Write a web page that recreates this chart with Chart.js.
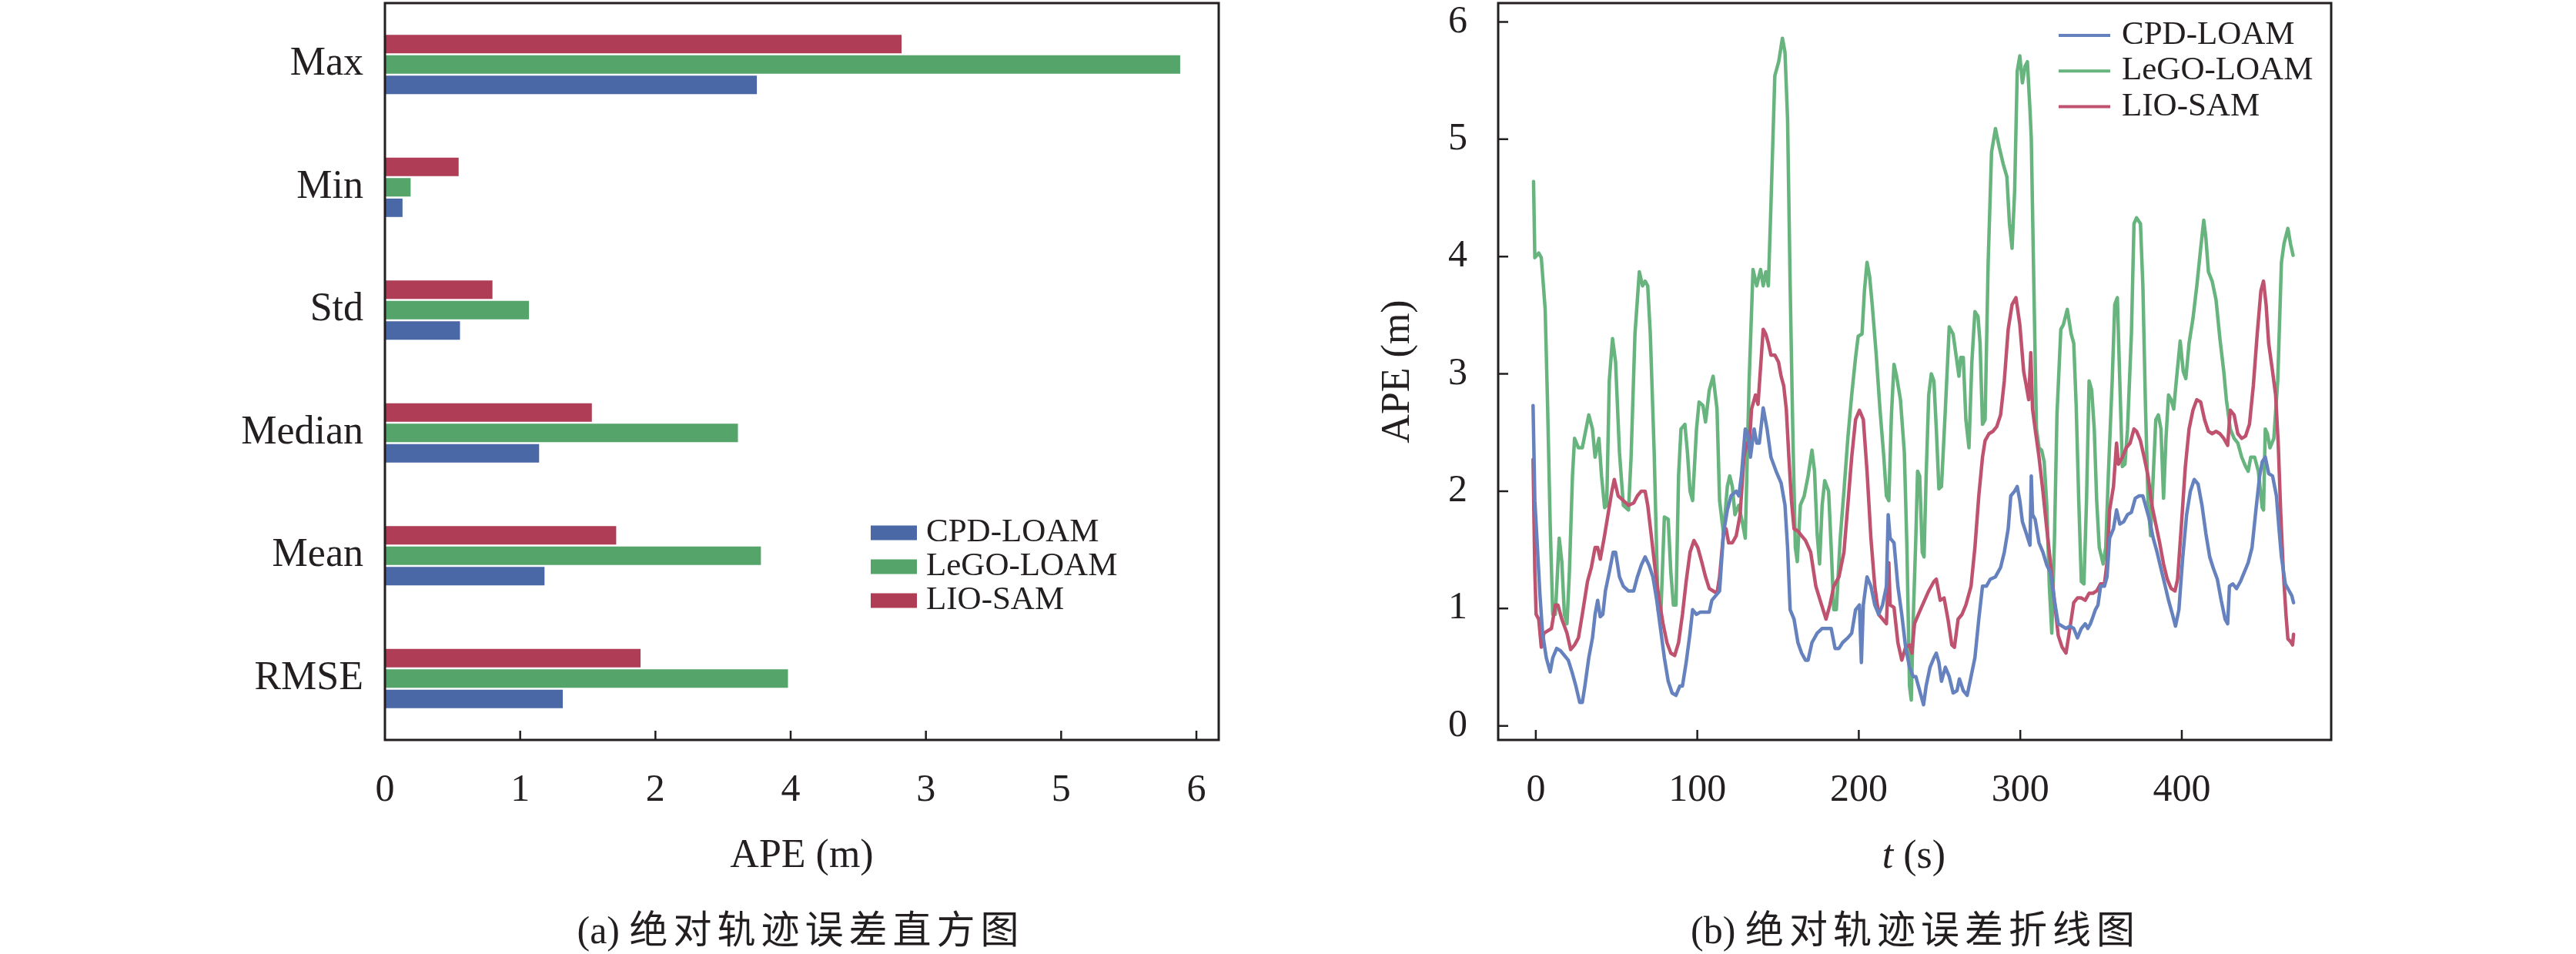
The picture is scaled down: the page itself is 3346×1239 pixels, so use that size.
<!DOCTYPE html>
<html>
<head>
<meta charset="utf-8">
<script src="https://cdn.jsdelivr.net/npm/chart.js@4.4.1/dist/chart.umd.min.js"></script>
<style>
  body { margin: 0; background: #fff; }
  #pagina { position: relative; width: 3346px; height: 1239px; background: #fff; overflow: hidden; }
  canvas { position: absolute; top: 0; }
  .txt { position: absolute; font-family: "Liberation Serif", "Noto Sans CJK SC", serif; color: #231f20;
         white-space: nowrap; transform: translate(-50%, -50%); line-height: 1; }
  .cap { font-size: 50px; }
  .cap span { font-family: "Noto Sans CJK SC", sans-serif; letter-spacing: 7px; }
</style>
</head>
<body>
<div id="pagina">
  <canvas id="graficaBarras" width="1673" height="1239" style="left:0"></canvas>
  <canvas id="graficaLineas" width="1673" height="1239" style="left:1673px"></canvas>
  <div class="txt" style="left:2486px; top:1110px; font-size:52px"><i>t</i> (s)</div>
  <div class="txt cap" style="left:1040px; top:1205px">(a) <span>绝对轨迹误差直方图</span></div>
  <div class="txt cap" style="left:2488px; top:1205px">(b) <span>绝对轨迹误差折线图</span></div>
</div>
<script>
// Datos del histograma (a)
const categorias = ['Max', 'Min', 'Std', 'Median', 'Mean', 'RMSE'];
const cpdBarras = [2.75, 0.13, 0.555, 1.14, 1.18, 1.315];
const legoBarras = [5.88, 0.19, 1.065, 2.61, 2.78, 2.98];
const lioBarras = [3.82, 0.545, 0.795, 1.53, 1.71, 1.89];
const ticksBarras = [0, 1, 2, 3, 4, 5, 6];
const etiquetasBarras = ['0', '1', '2', '4', '3', '5', '6'];   // tal como aparecen en la figura

// Datos de la curva (b): pares [t (s), APE (m)]
const cpdLoam = [[-1.7,2.73],[-0.6,1.92],[1.0,1.52],[2.6,1.11],[4.2,0.79],[6.5,0.58],[8.9,0.46],[10.5,0.58],[12.9,0.66],[15.3,0.64],[17.7,0.60],[20.1,0.56],[22.4,0.46],[24.8,0.34],[27.2,0.2],[28.8,0.2],[30.4,0.34],[32.8,0.58],[35.1,0.75],[36.7,0.95],[38.3,1.07],[39.9,0.93],[41.5,0.95],[43.1,1.15],[45.5,1.31],[47.9,1.48],[49.4,1.48],[51.8,1.27],[54.2,1.19],[57.4,1.15],[60.6,1.15],[62.9,1.27],[65.3,1.37],[67.7,1.44],[70.1,1.37],[72.5,1.27],[74.9,1.07],[77.2,0.83],[79.6,0.58],[82.0,0.38],[84.4,0.28],[86.8,0.26],[89.2,0.34],[90.8,0.34],[93.1,0.54],[95.5,0.79],[97.1,0.99],[99.5,0.95],[101.9,0.97],[105.1,0.97],[107.4,0.97],[109.0,1.07],[111.4,1.11],[113.8,1.15],[116.2,1.64],[118.6,1.84],[120.9,1.96],[124.1,2.0],[125.7,1.96],[127.3,2.13],[129.7,2.53],[131.3,2.49],[132.9,2.29],[135.2,2.53],[136.8,2.41],[138.4,2.41],[140.8,2.71],[143.2,2.53],[145.6,2.29],[148.8,2.17],[151.9,2.07],[154.3,1.88],[155.9,1.52],[157.5,0.99],[159.9,0.91],[162.3,0.71],[164.6,0.62],[167.0,0.56],[168.6,0.56],[171.0,0.71],[174.2,0.79],[177.3,0.83],[180.5,0.83],[182.9,0.83],[185.3,0.66],[187.7,0.66],[190.0,0.71],[193.2,0.75],[195.6,0.79],[198.0,0.99],[200.4,1.03],[201.6,0.54],[202.8,1.03],[205.1,1.27],[207.5,1.19],[209.9,1.03],[212.3,0.95],[214.7,1.03],[217.1,1.19],[218.2,1.8],[219.4,1.6],[221.8,1.56],[224.2,1.19],[226.6,0.95],[229.0,0.67],[231.4,0.5],[233.7,0.42],[235.3,0.42],[236.9,0.34],[238.5,0.26],[240.1,0.18],[241.7,0.34],[244.1,0.5],[246.5,0.58],[248.0,0.62],[249.6,0.54],[251.2,0.38],[253.6,0.5],[256.0,0.42],[258.4,0.28],[260.8,0.30],[262.3,0.4],[264.7,0.30],[267.1,0.26],[269.5,0.42],[271.9,0.58],[274.3,0.91],[276.6,1.19],[279.0,1.19],[281.4,1.25],[284.6,1.27],[287.8,1.35],[290.1,1.48],[292.5,1.68],[294.1,1.96],[296.5,2.0],[298.1,2.04],[299.7,1.92],[301.3,1.74],[303.7,1.64],[306.0,1.54],[306.8,2.13],[307.6,1.8],[309.2,1.76],[311.6,1.56],[314.0,1.48],[316.4,1.37],[318.7,1.31],[321.1,1.07],[323.5,0.87],[325.9,0.85],[328.3,0.83],[330.7,0.85],[333.1,0.83],[335.4,0.75],[337.8,0.83],[340.2,0.87],[341.8,0.83],[343.4,0.87],[345.0,0.93],[346.5,0.99],[348.1,1.03],[349.7,1.19],[352.1,1.19],[353.7,1.27],[355.3,1.6],[357.7,1.68],[359.6,1.84],[361.6,1.72],[364.0,1.74],[366.4,1.8],[368.8,1.82],[371.2,1.94],[373.6,1.96],[375.9,1.96],[377.5,1.88],[379.9,1.76],[382.3,1.6],[384.7,1.48],[387.1,1.34],[389.4,1.21],[391.8,1.07],[394.2,0.95],[396.1,0.85],[398.2,0.99],[400.6,1.44],[403.0,1.8],[405.3,2.0],[407.7,2.1],[410.1,2.06],[412.5,1.88],[414.9,1.64],[417.3,1.44],[419.6,1.34],[422.0,1.25],[424.4,1.07],[426.8,0.91],[428.4,0.87],[429.5,1.19],[431.6,1.21],[433.9,1.17],[436.3,1.23],[438.7,1.31],[441.1,1.39],[443.5,1.52],[445.9,1.84],[448.2,2.13],[449.8,2.25],[451.7,2.29],[453.8,2.15],[456.2,2.13],[458.6,1.96],[460.2,1.68],[461.7,1.44],[464.1,1.21],[466.5,1.15],[468.1,1.11],[469.2,1.05]];

const legoLoam = [[-1.4,4.64],[-0.6,3.99],[1.8,4.03],[3.4,3.99],[5.8,3.55],[7.3,2.73],[8.9,1.72],[10.5,0.95],[12.1,0.95],[14.5,1.6],[16.1,1.4],[17.7,0.95],[19.3,0.87],[20.8,1.31],[22.7,2.13],[24.0,2.45],[26.4,2.37],[28.8,2.37],[32.8,2.65],[35.1,2.53],[36.7,2.29],[39.1,2.45],[40.7,2.13],[42.6,1.86],[43.9,1.88],[45.5,2.94],[47.5,3.30],[49.4,3.10],[51.8,2.33],[54.2,1.88],[57.4,1.84],[59.0,2.29],[61.4,3.34],[64.1,3.87],[66.1,3.75],[67.7,3.79],[69.3,3.75],[70.9,3.34],[73.3,2.33],[75.7,0.99],[77.3,0.91],[79.6,1.78],[82.0,1.76],[83.6,1.31],[85.2,1.03],[86.8,1.03],[88.4,2.13],[89.9,2.53],[92.3,2.57],[93.9,2.33],[95.5,2.0],[97.1,1.92],[99.5,2.53],[101.1,2.76],[103.5,2.73],[105.1,2.59],[107.4,2.86],[109.8,2.98],[112.2,2.7],[113.8,1.92],[116.2,1.64],[118.6,2.04],[120.1,2.13],[121.7,2.04],[123.3,1.8],[125.7,1.88],[128.1,1.72],[129.7,1.6],[132.1,2.94],[134.5,3.89],[136.8,3.75],[139.2,3.89],[140.8,3.75],[142.4,3.87],[144.0,3.75],[145.6,4.44],[148.0,5.54],[150.4,5.66],[152.7,5.86],[154.3,5.74],[155.9,5.17],[157.5,3.75],[159.1,2.53],[160.7,1.52],[161.9,1.40],[163.8,1.88],[166.2,1.96],[168.6,2.13],[171.0,2.35],[172.6,2.17],[174.2,1.64],[175.7,1.38],[177.3,1.88],[178.9,2.09],[181.3,2.0],[182.9,1.52],[184.5,0.99],[186.1,0.99],[188.5,1.6],[190.8,2.0],[193.2,2.45],[195.6,2.82],[198.0,3.14],[199.6,3.32],[202.0,3.34],[203.5,3.71],[205.1,3.95],[206.7,3.83],[208.3,3.59],[210.7,3.18],[213.1,2.7],[215.5,2.29],[217.1,1.96],[218.6,1.92],[220.2,2.65],[221.8,3.08],[223.4,2.98],[225.8,2.78],[228.2,2.33],[229.8,1.52],[231.4,0.34],[232.5,0.22],[233.7,0.91],[235.3,1.6],[236.4,2.17],[237.7,2.13],[239.3,1.48],[240.4,1.44],[241.7,2.13],[243.3,2.82],[244.9,3.0],[246.5,2.94],[248.0,2.53],[249.6,2.02],[251.2,2.04],[253.6,2.7],[256.0,3.4],[258.4,3.34],[260.8,3.1],[262.0,2.98],[263.1,3.14],[264.7,3.14],[266.3,2.61],[268.2,2.37],[270.0,3.1],[271.9,3.53],[273.8,3.49],[275.1,3.26],[276.6,2.57],[278.2,2.61],[280.1,3.95],[282.2,4.89],[284.6,5.09],[287.0,4.93],[289.4,4.79],[291.7,4.68],[293.3,4.28],[294.9,4.07],[296.5,4.56],[298.1,5.58],[299.7,5.71],[301.3,5.48],[302.9,5.62],[304.4,5.66],[306.0,5.25],[306.8,5.01],[308.4,3.75],[310.0,2.53],[311.6,2.37],[313.2,2.35],[314.8,2.25],[316.4,1.88],[318.0,1.19],[319.5,0.79],[321.1,1.56],[322.7,2.65],[325.1,3.38],[326.7,3.42],[329.1,3.55],[331.5,3.34],[333.1,3.26],[334.6,2.73],[336.2,1.92],[337.8,1.23],[339.4,1.21],[341.0,1.92],[342.6,2.94],[344.2,2.86],[345.8,2.53],[347.3,1.92],[348.9,1.52],[351.3,1.38],[352.9,1.52],[354.5,2.13],[356.9,2.94],[358.5,3.59],[360.1,3.65],[361.6,2.94],[363.2,2.21],[364.8,2.23],[366.4,2.53],[368.8,3.34],[370.4,4.28],[372.0,4.33],[374.4,4.28],[375.9,3.75],[377.5,2.73],[379.1,1.92],[380.7,1.62],[382.3,2.13],[383.9,2.61],[385.5,2.65],[387.1,2.53],[388.7,1.94],[390.2,2.45],[391.8,2.82],[393.4,2.78],[395.0,2.7],[396.6,2.94],[399.0,3.28],[400.9,3.02],[402.5,2.96],[404.5,3.26],[406.9,3.47],[409.3,3.75],[411.7,4.07],[413.6,4.31],[414.9,4.16],[416.5,3.87],[418.8,3.79],[421.2,3.63],[423.6,3.3],[426.0,3.02],[427.6,2.78],[430.0,2.53],[432.4,2.45],[434.7,2.41],[437.1,2.29],[439.5,2.21],[441.1,2.17],[442.7,2.29],[445.1,2.29],[447.4,2.17],[449.8,1.86],[450.6,1.84],[451.7,2.53],[453.0,2.49],[454.6,2.37],[457.0,2.45],[459.4,2.94],[461.7,3.95],[463.3,4.11],[465.7,4.24],[467.3,4.11],[468.9,4.01]];

const lioSam = [[-1.7,2.27],[-0.6,1.31],[0.2,0.95],[1.8,0.91],[3.4,0.67],[5.0,0.79],[7.3,0.81],[9.7,0.83],[12.1,1.03],[13.7,1.03],[16.1,0.91],[19.3,0.79],[21.6,0.65],[24.0,0.69],[26.4,0.75],[28.8,0.95],[32.0,1.23],[34.4,1.35],[36.7,1.52],[38.3,1.52],[39.9,1.42],[42.3,1.6],[44.7,1.8],[47.1,2.0],[48.6,2.1],[51.0,1.96],[54.2,1.92],[57.4,1.88],[60.6,1.90],[62.9,1.96],[65.3,2.0],[67.7,2.0],[69.3,1.88],[71.7,1.6],[74.1,1.31],[76.4,1.07],[78.8,0.87],[81.2,0.71],[83.6,0.62],[86.0,0.6],[88.4,0.71],[90.8,0.95],[93.1,1.23],[95.5,1.48],[97.9,1.58],[100.3,1.52],[102.7,1.4],[105.1,1.27],[107.4,1.17],[109.8,1.15],[112.2,1.13],[113.8,1.27],[116.2,1.64],[117.8,1.68],[119.4,1.56],[121.7,1.56],[124.1,1.62],[126.5,1.8],[128.9,2.29],[130.5,2.41],[132.1,2.37],[133.6,2.7],[136.0,2.82],[137.6,2.74],[139.2,3.06],[140.8,3.38],[142.4,3.34],[144.0,3.26],[145.6,3.16],[148.0,3.16],[150.3,3.1],[151.9,2.98],[153.5,2.9],[155.1,2.7],[156.7,2.29],[158.3,1.92],[159.9,1.68],[162.3,1.66],[164.6,1.62],[167.0,1.58],[170.2,1.48],[173.4,1.19],[176.5,1.05],[179.7,0.91],[182.1,1.03],[184.5,1.19],[187.7,1.27],[190.8,1.48],[193.2,1.88],[195.6,2.29],[198.0,2.61],[200.4,2.69],[202.8,2.61],[205.1,2.17],[207.5,1.6],[209.9,1.19],[212.3,0.95],[214.7,0.91],[217.1,0.87],[218.6,1.39],[219.4,1.03],[221.8,1.01],[224.2,0.71],[226.6,0.56],[229.0,0.67],[231.4,0.69],[232.9,0.62],[234.5,0.87],[236.9,0.95],[240.1,1.05],[243.3,1.15],[246.5,1.23],[248.0,1.25],[250.4,1.07],[252.8,1.09],[255.2,0.91],[257.6,0.69],[259.2,0.67],[261.5,0.91],[263.9,0.95],[266.3,1.03],[269.5,1.19],[271.9,1.52],[274.3,1.96],[276.6,2.29],[278.2,2.43],[280.6,2.49],[283.0,2.51],[285.4,2.55],[287.8,2.65],[290.1,2.94],[292.5,3.38],[294.9,3.59],[297.3,3.65],[299.7,3.42],[302.1,3.02],[303.7,2.9],[305.2,2.78],[306.5,3.18],[307.6,2.7],[309.2,2.53],[311.6,2.29],[314.0,2.0],[316.4,1.68],[318.7,1.39],[321.1,1.07],[323.5,0.77],[325.9,0.67],[328.3,0.62],[330.7,0.83],[333.1,1.05],[335.4,1.09],[337.8,1.09],[340.2,1.07],[342.6,1.13],[345.0,1.13],[347.3,1.15],[349.7,1.21],[352.1,1.21],[353.7,1.39],[355.3,1.84],[357.7,2.04],[359.6,2.41],[360.8,2.23],[363.2,2.29],[365.6,2.37],[368.0,2.41],[370.4,2.53],[372.0,2.51],[374.4,2.43],[376.7,2.29],[379.1,2.13],[381.5,1.88],[383.9,1.72],[386.3,1.56],[388.7,1.38],[391.0,1.25],[393.4,1.17],[395.8,1.15],[397.4,1.25],[399.8,1.72],[402.2,2.21],[404.5,2.53],[406.9,2.69],[409.3,2.78],[411.7,2.76],[414.1,2.61],[416.5,2.51],[418.8,2.49],[421.2,2.51],[423.6,2.49],[426.0,2.45],[428.4,2.39],[430.0,2.69],[432.4,2.65],[434.7,2.49],[437.1,2.45],[439.5,2.47],[441.9,2.57],[444.3,2.9],[446.7,3.34],[449.0,3.71],[450.6,3.79],[452.2,3.59],[453.8,3.26],[456.2,3.02],[458.1,2.82],[459.7,2.41],[461.3,1.8],[462.9,1.31],[464.5,0.95],[465.7,0.74],[467.3,0.72],[468.6,0.69],[469.2,0.78]];

const ticksTiempo = [0, 100, 200, 300, 400];
const ticksApe = [0, 1, 2, 3, 4, 5, 6];

Chart.defaults.font.family = '"Liberation Serif", "Times New Roman", serif';
Chart.defaults.color = '#231f20';
Chart.defaults.animation = false;

const tinta = '#231f20';

// quita el relleno automático que Chart.js reserva para las etiquetas extremas
function sinRelleno(s) {
  s.paddingTop = 0;
  s.paddingBottom = 0;
  s.paddingLeft = 0;
  s.paddingRight = 0;
}

// Marco completo y marcas de escala hacia dentro
const marco = {
  id: 'marco',
  afterDraw(chart, args, opts) {
    const { ctx, chartArea: a, scales } = chart;
    ctx.save();
    ctx.strokeStyle = tinta;
    ctx.lineWidth = 2.5;
    ctx.beginPath();
    scales.x.ticks.forEach(t => {
      const px = scales.x.getPixelForValue(t.value);
      if (px - a.left < 2) return;
      ctx.moveTo(px, a.bottom);
      ctx.lineTo(px, a.bottom - opts.largo);
    });
    if (opts.ejeY) {
      scales.y.ticks.forEach(t => {
        const py = scales.y.getPixelForValue(t.value);
        ctx.moveTo(a.left, py);
        ctx.lineTo(a.left + opts.largo, py);
      });
    }
    ctx.stroke();
    ctx.lineWidth = 3;
    ctx.strokeRect(a.left, a.top, a.right - a.left, a.bottom - a.top);
    ctx.restore();
  }
};

// Leyenda dibujada dentro del área del gráfico
const leyendaInterna = {
  id: 'leyendaInterna',
  afterDatasetsDraw(chart, args, opts) {
    const ctx = chart.ctx;
    let items = chart.data.datasets.map(d => ({ label: d.label, color: d.borderColor || d.backgroundColor }));
    if (opts.inverso) items = items.reverse();
    ctx.save();
    ctx.font = opts.fuente + 'px "Liberation Serif", serif';
    ctx.textBaseline = 'middle';
    items.forEach((it, i) => {
      const y = opts.y + i * opts.paso;
      if (opts.simbolo === 'caja') {
        ctx.fillStyle = it.color;
        ctx.fillRect(opts.x, y - opts.alto / 2, opts.ancho, opts.alto);
      } else {
        ctx.strokeStyle = it.color;
        ctx.lineWidth = opts.alto;
        ctx.beginPath();
        ctx.moveTo(opts.x, y);
        ctx.lineTo(opts.x + opts.ancho, y);
        ctx.stroke();
      }
      ctx.fillStyle = tinta;
      ctx.fillText(it.label, opts.textoX, y);
    });
    ctx.restore();
  }
};

// (a) Histograma horizontal
new Chart(document.getElementById('graficaBarras').getContext('2d'), {
  type: 'bar',
  data: {
    labels: categorias,
    datasets: [
      { label: 'LIO-SAM', data: lioBarras, backgroundColor: '#ae3d55' },
      { label: 'LeGO-LOAM', data: legoBarras, backgroundColor: '#55a46a' },
      { label: 'CPD-LOAM', data: cpdBarras, backgroundColor: '#4a68a6' }
    ]
  },
  options: {
    indexAxis: 'y',
    responsive: false,
    devicePixelRatio: 1,
    categoryPercentage: 0.5,
    barPercentage: 0.9,
    layout: { padding: { left: 0, top: 4, right: 90, bottom: 95 } },
    scales: {
      x: {
        type: 'linear',
        min: 0,
        max: 6.165,
        afterBuildTicks: s => { s.ticks = ticksBarras.map(v => ({ value: v })); },
        afterFit: s => { s.height = 183; sinRelleno(s); },
        ticks: { font: { size: 50 }, padding: 36, maxRotation: 0, autoSkip: false,
                 callback: (v, i) => etiquetasBarras[i] },
        grid: { display: false, drawTicks: false },
        border: { display: false },
        title: { display: true, text: 'APE (m)', font: { size: 52 }, padding: 0, color: tinta }
      },
      y: {
        afterFit: s => { s.width = 500; sinRelleno(s); },
        ticks: { font: { size: 52 }, padding: 28 },
        grid: { display: false, drawTicks: false },
        border: { display: false }
      }
    },
    plugins: {
      legend: { display: false },
      tooltip: { enabled: false },
      marco: { largo: 12, ejeY: false },
      leyendaInterna: { x: 1131, y: 692, paso: 44, ancho: 60, alto: 19, textoX: 1203, fuente: 43,
                        simbolo: 'caja', inverso: true }
    }
  },
  plugins: [marco, leyendaInterna]
});

// (b) Curvas de error en el tiempo
const aPuntos = serie => serie.map(p => ({ x: p[0], y: p[1] }));

new Chart(document.getElementById('graficaLineas').getContext('2d'), {
  type: 'line',
  data: {
    datasets: [
      { label: 'CPD-LOAM', data: aPuntos(cpdLoam), borderColor: '#6682be', order: 0 },
      { label: 'LeGO-LOAM', data: aPuntos(legoLoam), borderColor: '#68b47f', order: 2 },
      { label: 'LIO-SAM', data: aPuntos(lioSam), borderColor: '#bf536f', order: 1 }
    ]
  },
  options: {
    responsive: false,
    devicePixelRatio: 1,
    parsing: false,
    elements: { point: { radius: 0 }, line: { borderWidth: 4.5, tension: 0, borderJoinStyle: 'round', borderCapStyle: 'round' } },
    layout: { padding: { left: 112, top: 4, right: 318, bottom: 95 } },
    scales: {
      x: {
        type: 'linear',
        min: -23.3,
        max: 492.5,
        afterBuildTicks: s => { s.ticks = ticksTiempo.map(v => ({ value: v })); },
        afterFit: s => { s.height = 183; sinRelleno(s); },
        ticks: { font: { size: 50 }, padding: 36, maxRotation: 0, autoSkip: false },
        grid: { display: false, drawTicks: false },
        border: { display: false }
      },
      y: {
        type: 'linear',
        min: -0.12,
        max: 6.16,
        afterBuildTicks: s => { s.ticks = ticksApe.map(v => ({ value: v })); },
        afterFit: s => { s.width = 161; sinRelleno(s); },
        ticks: { font: { size: 50 }, padding: 40 },
        grid: { display: false, drawTicks: false },
        border: { display: false },
        title: { display: true, text: 'APE (m)', font: { size: 52 }, padding: 0, color: tinta }
      }
    },
    plugins: {
      legend: { display: false },
      tooltip: { enabled: false },
      marco: { largo: 13, ejeY: true },
      leyendaInterna: { x: 1001, y: 46, paso: 46.2, ancho: 67, alto: 4, textoX: 1083, fuente: 43,
                        simbolo: 'linea', inverso: false }
    }
  },
  plugins: [marco, leyendaInterna]
});
</script>
</body>
</html>
